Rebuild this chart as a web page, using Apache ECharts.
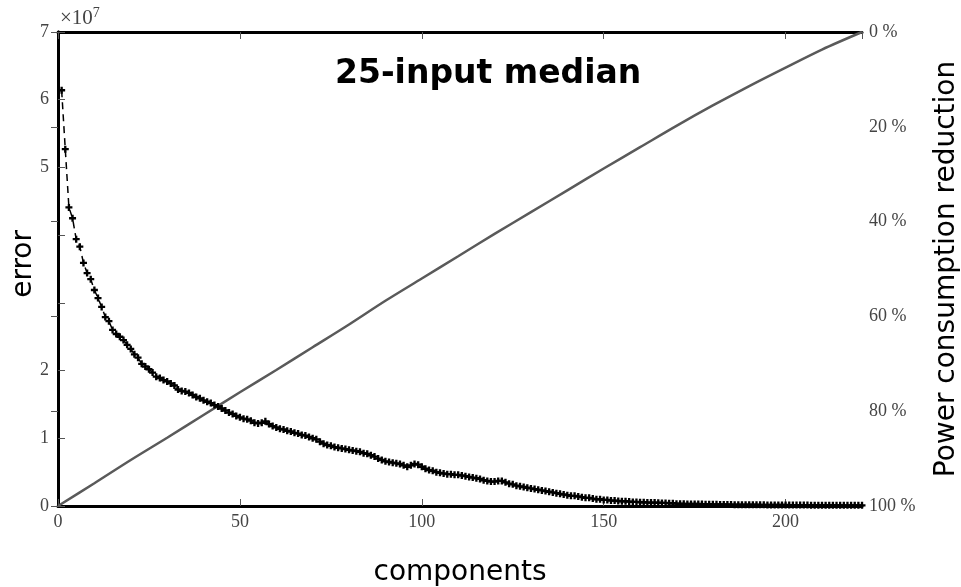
<!DOCTYPE html>
<html>
<head>
<meta charset="utf-8">
<script src="https://cdn.jsdelivr.net/npm/echarts@6/dist/echarts.min.js"></script>
<style>
  html, body { margin: 0; padding: 0; background: #fff; }
  #chart { width: 961px; height: 587px; }
</style>
</head>
<body>
<div id="chart"></div>
<script>
// error per number of components (units of 1e7), components 1..221
var errorValues = [
  6.14, 5.27, 4.41, 4.25, 3.94, 3.83, 3.59, 3.44, 3.35, 3.19,
  3.07, 2.94, 2.79, 2.73, 2.60, 2.54, 2.50, 2.45, 2.38, 2.32,
  2.24, 2.19, 2.10, 2.06, 2.02, 1.97, 1.91, 1.89, 1.86, 1.84,
  1.81, 1.78, 1.72, 1.70, 1.69, 1.67, 1.64, 1.61, 1.59, 1.56,
  1.54, 1.52, 1.49, 1.47, 1.44, 1.41, 1.38, 1.36, 1.33, 1.31,
  1.29, 1.28, 1.26, 1.23, 1.22, 1.23, 1.25, 1.21, 1.18, 1.16,
  1.14, 1.13, 1.11, 1.10, 1.08, 1.07, 1.05, 1.04, 1.02, 1.00,
  0.985, 0.95, 0.92, 0.90, 0.89, 0.87, 0.86, 0.85, 0.84, 0.83,
  0.82, 0.81, 0.80, 0.78, 0.77, 0.75, 0.73, 0.70, 0.68, 0.66,
  0.65, 0.64, 0.63, 0.62, 0.60, 0.58, 0.60, 0.62, 0.61, 0.58,
  0.55, 0.53, 0.52, 0.50, 0.49, 0.48, 0.47, 0.47, 0.46, 0.46,
  0.45, 0.44, 0.43, 0.42, 0.41, 0.40, 0.38, 0.37, 0.36, 0.36,
  0.37, 0.37, 0.35, 0.33, 0.32, 0.30, 0.29, 0.28, 0.27, 0.26,
  0.25, 0.24, 0.23, 0.22, 0.21, 0.20, 0.19, 0.18, 0.17, 0.16,
  0.15, 0.15, 0.14, 0.13, 0.12, 0.12, 0.11, 0.10, 0.10, 0.09,
  0.09, 0.08, 0.08, 0.074, 0.07, 0.07, 0.065, 0.06, 0.06, 0.055,
  0.055, 0.05, 0.05, 0.05, 0.048, 0.046, 0.045, 0.04, 0.04, 0.035,
  0.033, 0.032, 0.031, 0.03, 0.03, 0.029, 0.028, 0.027, 0.026, 0.025,
  0.024, 0.023, 0.022, 0.022, 0.021, 0.02, 0.02, 0.02, 0.019, 0.019,
  0.018, 0.018, 0.017, 0.017, 0.016, 0.016, 0.016, 0.015, 0.015, 0.015,
  0.014, 0.014, 0.014, 0.013, 0.013, 0.013, 0.012, 0.012, 0.012, 0.012,
  0.011, 0.011, 0.011, 0.011, 0.01, 0.01, 0.01, 0.01, 0.01, 0.01, 0.01
]

// power consumption reduction (%)
var powerComponents = [0, 10, 20, 30, 40, 50, 60, 70, 80, 90, 100, 110, 120, 130, 140, 150, 160, 170, 180, 190, 200, 210, 221]
var powerValues = [100, 95.2, 90.3, 85.6, 80.8, 76.0, 71.3, 66.5, 61.7, 56.7, 52.0, 47.3, 42.6, 38.0, 33.4, 28.8, 24.3, 19.8, 15.5, 11.4, 7.5, 3.7, 0]

// left axis labels (3 and 4 have no label in the original)
var errorTickLabels = ['0', '1', '2', '', '', '5', '6', '7']
var xMax = 221

var errorData = errorValues.map(function (v, i) { return [i + 1, v] })
var powerData = powerComponents.map(function (c, i) { return [c, powerValues[i]] })

var tickFont = 'Liberation Serif'
var titleFont = 'DejaVu Sans'
var plus = 'path://M2,0H4V2H6V4H4V6H2V4H0V2H2Z'

var chart = echarts.init(document.getElementById('chart'))
chart.setOption({
  animation: false,
  title: {
    text: '25-input median',
    left: 330,
    top: 53,
    textStyle: { fontFamily: titleFont, fontSize: 33, fontWeight: 'bold', color: '#000' }
  },
  grid: { left: 58, right: 99, top: 32, bottom: 81, outerBoundsMode: 'none' },
  xAxis: [
    {
      type: 'value',
      min: 0,
      max: xMax,
      interval: 50,
      name: 'components',
      nameLocation: 'middle',
      nameGap: 53,
      nameTextStyle: { fontFamily: titleFont, fontSize: 28, color: '#000' },
      axisLine: { lineStyle: { color: '#000', width: 3 } },
      axisTick: { inside: true, length: 7, lineStyle: { color: '#555' } },
      axisLabel: {
        showMaxLabel: false,
        margin: 7,
        fontFamily: tickFont,
        fontSize: 18,
        color: '#444'
      },
      splitLine: { show: false }
    },
    {
      type: 'value',
      position: 'top',
      min: 0,
      max: xMax,
      interval: 50,
      axisLine: { lineStyle: { color: '#000', width: 3 } },
      axisTick: { inside: true, length: 7, lineStyle: { color: '#555' } },
      axisLabel: { show: false },
      splitLine: { show: false }
    }
  ],
  yAxis: [
    {
      type: 'value',
      min: 0,
      max: 7,
      interval: 1,
      name: '{a|×10}{b|7}',
      nameLocation: 'end',
      nameGap: 2,
      nameTextStyle: {
        align: 'left',
        padding: [0, 0, 0, 2],
        rich: {
          a: { fontFamily: tickFont, fontSize: 21, color: '#444' },
          b: { fontFamily: tickFont, fontSize: 14, color: '#444', verticalAlign: 'top', padding: [0, 0, 10, 0] }
        }
      },
      axisLine: { lineStyle: { color: '#000', width: 3 } },
      axisTick: { inside: true, length: 7, lineStyle: { color: '#555' } },
      axisLabel: {
        margin: 9,
        fontFamily: tickFont,
        fontSize: 18,
        color: '#444',
        formatter: function (v) { return errorTickLabels[Math.round(v)] }
      },
      splitLine: { show: false }
    },
    {
      type: 'value',
      min: 0,
      max: 100,
      interval: 20,
      inverse: true,
      position: 'right',
      name: 'Power consumption reduction',
      nameLocation: 'middle',
      nameRotate: 90,
      nameGap: 71,
      nameTextStyle: { fontFamily: titleFont, fontSize: 28, color: '#000' },
      axisLine: { lineStyle: { color: '#000', width: 3 } },
      axisTick: { inside: true, length: 7, lineStyle: { color: '#555' } },
      axisLabel: {
        margin: 7,
        fontFamily: tickFont,
        fontSize: 18,
        color: '#444',
        formatter: '{value} %'
      },
      splitLine: { show: false }
    }
  ],
  graphic: [
    {
      type: 'text',
      left: 10,
      top: 230,
      rotation: Math.PI / 2,
      style: { text: 'error', font: '28px "DejaVu Sans"', fill: '#000' }
    }
  ],
  series: [
    {
      name: 'power',
      type: 'line',
      xAxisIndex: 0,
      yAxisIndex: 1,
      data: powerData,
      showSymbol: false,
      smooth: 0.3,
      lineStyle: { color: '#5a5a5a', width: 2.5 },
      z: 2
    },
    {
      name: 'error',
      type: 'line',
      xAxisIndex: 0,
      yAxisIndex: 0,
      data: errorData,
      symbol: plus,
      symbolSize: 7,
      itemStyle: { color: '#000' },
      lineStyle: { color: '#000', width: 1.5, type: [7, 5] },
      z: 3
    }
  ]
})
</script>
</body>
</html>
